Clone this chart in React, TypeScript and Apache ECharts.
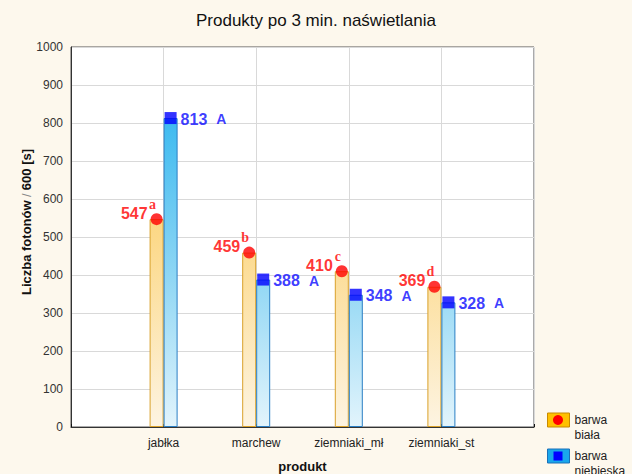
import React, { useEffect, useRef } from "react";
import * as echarts from "echarts";

const categories = ["jabłka", "marchew", "ziemniaki_mł", "ziemniaki_st"];
const whiteValues = [547, 459, 410, 369];
const blueValues = [813, 388, 348, 328];
const whiteLetters = ["a", "b", "c", "d"];
const blueLetters = ["A", "A", "A", "A"];
const seriesNames = ["barwa biała", "barwa niebieska"];
const titleText = "Produkty po 3 min. naświetlania";
const yAxisNameParts = ["Liczba fotonów", "/", "600 [s]"];
const xAxisName = "produkt";

const FONT = "'Liberation Sans', Arial, sans-serif";

export default function App() {
  const ref = useRef<HTMLDivElement>(null);
  useEffect(() => {
    if (!ref.current) return;
    const chart = echarts.init(ref.current, undefined, { renderer: "svg" });
    const gridTop = 47;
    const gridBottomY = 427;
    const orangeGrad = new echarts.graphic.LinearGradient(
      0, gridTop, 0, gridBottomY,
      [
        { offset: 0, color: "#f8c650" },
        { offset: 0.5, color: "#fcd98a" },
        { offset: 1, color: "#fdf4e2" },
      ],
      true
    );
    const blueGrad = new echarts.graphic.LinearGradient(
      0, gridTop, 0, gridBottomY,
      [
        { offset: 0, color: "#18adee" },
        { offset: 0.6, color: "#8ed6f4" },
        { offset: 1, color: "#e2f4fc" },
      ],
      true
    );
    const whiteData = whiteValues.map((v, i) => [i + 1, v]);
    const blueData = blueValues.map((v, i) => [i + 1, v]);

    const legendText = {
      fontFamily: FONT,
      fontSize: 12,
      color: "#222",
      lineHeight: 15,
    };
    const legendFormatter = (n: string) => "\n" + n.replace(" ", "\n");

    chart.setOption({
      animation: false,
      backgroundColor: "#fdf8ed",
      textStyle: { fontFamily: FONT },
      title: {
        text: titleText,
        left: "center",
        top: 7,
        textStyle: { fontFamily: FONT, fontSize: 17, fontWeight: "normal", color: "#111" },
      },
      legend: [
        {
          orient: "vertical",
          left: 547,
          top: 397.5,
          padding: 0,
          itemWidth: 22,
          itemHeight: 14,
          icon: "rect",
          formatter: legendFormatter,
          textStyle: legendText,
          data: [
            { name: seriesNames[0], itemStyle: { color: "#ffc000", borderColor: "#c88a00", borderWidth: 1 } },
          ],
        },
        {
          orient: "vertical",
          left: 547,
          top: 433.5,
          padding: 0,
          itemWidth: 22,
          itemHeight: 14,
          icon: "rect",
          formatter: legendFormatter,
          textStyle: legendText,
          data: [
            { name: seriesNames[1], itemStyle: { color: "#19a7ec", borderColor: "#1a70b8", borderWidth: 1 } },
          ],
        },
      ],
      graphic: [
        { type: "circle", shape: { cx: 558, cy: 420, r: 5 }, style: { fill: "#ff0000" }, z: 100 },
        { type: "rect", shape: { x: 553.5, y: 451.5, width: 9, height: 9 }, style: { fill: "#0000ff" }, z: 100 },
      ],
      grid: {
        left: 71,
        right: 98,
        top: gridTop,
        bottom: 474 - gridBottomY,
        outerBoundsMode: "none",
        containLabel: false,
        show: true,
        backgroundColor: "#ffffff",
        borderColor: "#555",
        borderWidth: 1,
      },
      xAxis: {
        type: "value",
        min: 0,
        max: 5,
        interval: 1,
        name: xAxisName,
        nameLocation: "middle",
        nameGap: 33,
        nameMoveOverlap: false,
        nameTextStyle: { fontFamily: FONT, fontSize: 13, fontWeight: "bold", color: "#111" },
        axisLine: { show: true, lineStyle: { color: "#333" } },
        axisTick: { show: true, inside: true, length: 3, lineStyle: { color: "#111" } },
        axisLabel: {
          margin: 10,
          fontFamily: FONT,
          fontSize: 12,
          color: "#222",
          formatter: (v: number) => categories[v - 1] ?? "",
        },
        splitLine: { show: true, lineStyle: { color: "#d9d9d9" } },
      },
      yAxis: {
        type: "value",
        min: 0,
        max: 1000,
        interval: 100,
        name: `{p|${yAxisNameParts[0]}} {g|${yAxisNameParts[1]}} {b|${yAxisNameParts[2]}}`,
        nameLocation: "middle",
        nameGap: 38,
        nameMoveOverlap: false,
        nameRotate: 90,
        nameTextStyle: {
          rich: {
            p: { fontFamily: FONT, fontSize: 13, fontWeight: "bold", color: "#111", padding: [0, 0, 0, 30] },
            b: { fontFamily: FONT, fontSize: 13, fontWeight: "bold", color: "#111" },
            g: { fontFamily: FONT, fontSize: 13, color: "#888" },
          },
        },
        axisLine: { show: true, lineStyle: { color: "#333" } },
        axisTick: { show: false },
        axisLabel: {
          margin: 8,
          fontFamily: FONT,
          fontSize: 12,
          color: "#333",
          formatter: (v: number) => String(v),
        },
        splitLine: { show: true, lineStyle: { color: "#d9d9d9" } },
      },
      series: [
        {
          name: seriesNames[0],
          type: "bar",
          barWidth: 14,
          barGap: "0%",
          data: whiteData,
          itemStyle: { color: orangeGrad, borderColor: "#d9a12a", borderWidth: 1 },
        },
        {
          name: seriesNames[1],
          type: "bar",
          barWidth: 14,
          barGap: "0%",
          data: blueData,
          itemStyle: { color: blueGrad, borderColor: "#2a7fc4", borderWidth: 1 },
        },
        {
          name: "whiteLetters",
          type: "scatter",
          data: whiteData,
          symbol: "circle",
          symbolSize: 12,
          symbolOffset: [-7, 0],
          itemStyle: { color: "rgba(0,0,0,0)" },
          z: 5,
          label: {
            show: true,
            position: "top",
            distance: 3,
            offset: [-4, 0],
            lineHeight: 12,
            formatter: (p: any) => whiteLetters[p.dataIndex],
            fontFamily: "'Liberation Serif', 'Times New Roman', serif",
            fontSize: 14,
            fontWeight: "bold",
            color: "#ff0000",
          },
        },
        {
          name: "whiteMarkers",
          type: "scatter",
          data: whiteData,
          symbol: "circle",
          symbolSize: 12,
          symbolOffset: [-7, 0],
          itemStyle: { color: "#ff0000" },
          z: 6,
          label: {
            show: true,
            position: "left",
            distance: 3,
            offset: [0, -6],
            lineHeight: 13,
            formatter: (p: any) => String(p.value[1]),
            fontFamily: FONT,
            fontSize: 16,
            fontWeight: "bold",
            color: "#ff0000",
          },
        },
        {
          name: "blueMarkers",
          type: "scatter",
          data: blueData,
          symbol: "rect",
          symbolSize: 12,
          symbolOffset: [7, 0],
          itemStyle: { color: "#0000ff" },
          z: 6,
          label: {
            show: true,
            position: "right",
            distance: 4,
            offset: [0, 1],
            formatter: (p: any) => `{v|${p.value[1]}}{l|${blueLetters[p.dataIndex]}}`,
            rich: {
              v: { fontFamily: FONT, fontSize: 16, fontWeight: "bold", color: "#0a0aff", lineHeight: 13 },
              l: { fontFamily: FONT, fontSize: 14, fontWeight: "bold", color: "#0a0aff", lineHeight: 13, padding: [0, 0, 0, 9] },
            },
          },
        },
      ],
    });
    return () => chart.dispose();
  }, []);
  return (
    <div
      ref={ref}
      style={{ position: "fixed", left: 0, top: 0, width: 632, height: 474 }}
    />
  );
}
